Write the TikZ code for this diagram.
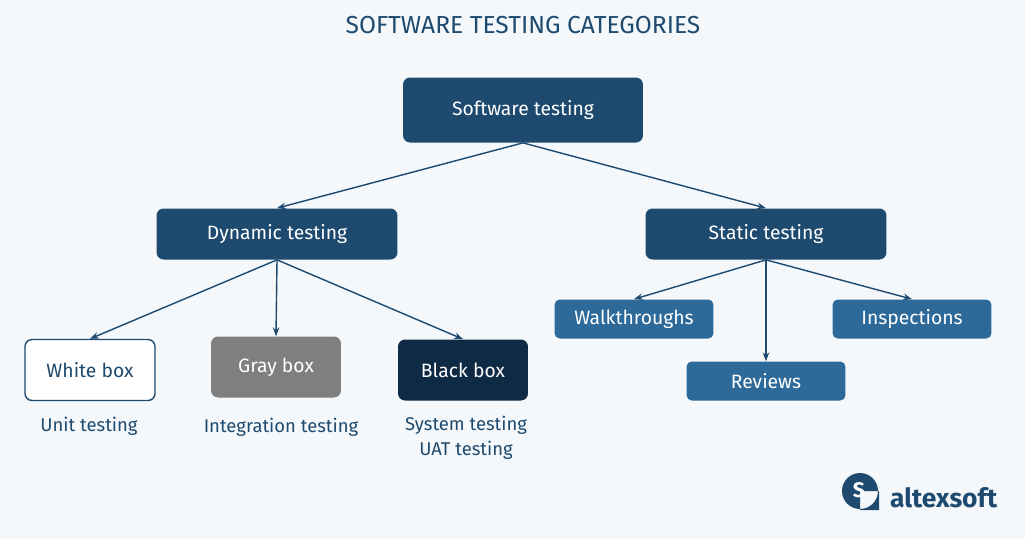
\documentclass[tikz,border=0pt]{standalone}
\usepackage{fontspec}
\setmainfont{Fira Sans}
\usetikzlibrary{arrows.meta,positioning}
\definecolor{pagebg}{HTML}{F4F8FB}
\definecolor{navy}{HTML}{1D4A6E}
\definecolor{midblue}{HTML}{2D6999}
\definecolor{nightblue}{HTML}{0F2A45}
\definecolor{boxgray}{HTML}{7F7F7F}

\begin{document}
\begin{tikzpicture}[
    x=0.02cm, y=-0.02cm,
    every node/.style={font=\fontsize{10}{12}\selectfont},
    topbox/.style={rectangle, rounded corners=4pt, fill=navy, text=white, minimum width=4.82cm, font=\fontsize{11}{13}\selectfont},
    leafbox/.style={rectangle, rounded corners=4pt, minimum width=2.6cm, minimum height=1.22cm, font=\fontsize{11}{13}\selectfont},
    smallbox/.style={rectangle, rounded corners=3pt, fill=midblue, text=white, minimum width=3.18cm, minimum height=0.78cm, font=\fontsize{11}{13}\selectfont},
    caption/.style={text=navy, font=\fontsize{10.5}{14}\selectfont},
    arrow/.style={-{Stealth[length=5pt]}, navy, thick},
]

% Page
\fill[pagebg] (0,0) rectangle (1025,539);

% Title
\node[text=navy, font=\fontsize{14}{16}\selectfont] (title) at (523,25) {SOFTWARE TESTING CATEGORIES};

% Main levels
\node[topbox, minimum width=4.8cm, minimum height=1.3cm] (software) at (523,110) {Software testing};
\node[topbox, minimum height=1.02cm] (dynamic) at (277,234) {Dynamic testing};
\node[topbox, minimum height=1.02cm] (static) at (766,234) {Static testing};

% Dynamic testing branches
\node[leafbox, draw=navy, thick, fill=white, text=navy] (white) at (90,370) {White box};
\node[leafbox, fill=boxgray, text=white] (gray) at (276,367) {Gray box};
\node[leafbox, fill=nightblue, text=white] (black) at (463,370) {Black box};

\node[caption] (unit) at (89,426) {Unit testing};
\node[caption] (integration) at (281,427) {Integration testing};
\node[caption, align=center] (system) at (466,438) {System testing\\UAT testing};

% Static testing branches
\node[smallbox] (walk) at (634,319) {Walkthroughs};
\node[smallbox] (inspect) at (912,319) {Inspections};
\node[smallbox] (reviews) at (766,381) {Reviews};

% Connectors
\draw[arrow] (software.south) -- (dynamic.north);
\draw[arrow] (software.south) -- (static.north);
\draw[arrow] (dynamic.south) -- (white.north);
\draw[arrow] (dynamic.south) -- (gray.north);
\draw[arrow] (dynamic.south) -- (black.north);
\draw[arrow] (static.south) -- (walk.north);
\draw[arrow] (static.south) -- (reviews.north);
\draw[arrow] (static.south) -- (inspect.north);

% Logo
\fill[navy] (860,491) circle (18) (860,491) rectangle (879,510);
\node[text=white, font=\bfseries\fontsize{12}{12}\selectfont] (logomark) at (859,490) {S};
\node[text=navy, font=\bfseries\fontsize{15}{16}\selectfont, anchor=west] (logo) at (884,498) {altexsoft};
\end{tikzpicture}
\end{document}
